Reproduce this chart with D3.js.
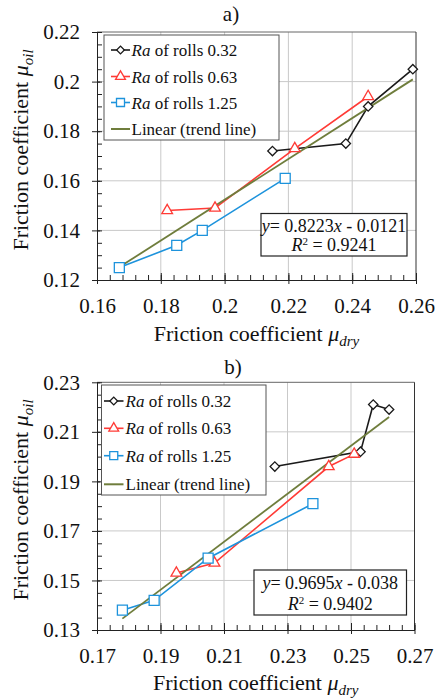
<!DOCTYPE html>
<html><head><meta charset="utf-8">
<script src="https://cdn.jsdelivr.net/npm/d3@7"></script>
<style>
html,body{margin:0;padding:0;background:#fff;}
svg{display:block;}
svg text{font-family:"Liberation Serif","Tinos","Times New Roman","DejaVu Serif",serif !important;}
</style></head>
<body><svg id="c" width="441" height="698"></svg>
<script>
// ---------- data ----------
const seriesNames = ["0.32", "0.63", "1.25"];
// panel a
const aBlackX = [0.215, 0.238, 0.245, 0.259];
const aBlackY = [0.172, 0.175, 0.190, 0.205];
const aRedX = [0.182, 0.197, 0.222, 0.245];
const aRedY = [0.148, 0.149, 0.173, 0.194];
const aBlueX = [0.167, 0.185, 0.193, 0.219];
const aBlueY = [0.125, 0.134, 0.140, 0.161];
const aTrendX = [0.167, 0.259];
const aTrendY = [0.1252, 0.2009];
const aXTicks = [0.16, 0.18, 0.20, 0.22, 0.24, 0.26];
const aXLabels = ["0.16", "0.18", "0.2", "0.22", "0.24", "0.26"];
const aYTicks = [0.12, 0.14, 0.16, 0.18, 0.20, 0.22];
const aYLabels = ["0.12", "0.14", "0.16", "0.18", "0.2", "0.22"];
const aEq = ["0.8223", "0.0121", "0.9241"];
// panel b
const bBlackX = [0.226, 0.253, 0.257, 0.262];
const bBlackY = [0.196, 0.202, 0.221, 0.219];
const bRedX = [0.195, 0.207, 0.243, 0.251];
const bRedY = [0.153, 0.157, 0.196, 0.201];
const bBlueX = [0.178, 0.188, 0.205, 0.238];
const bBlueY = [0.138, 0.142, 0.159, 0.181];
const bTrendX = [0.178, 0.262];
const bTrendY = [0.1346, 0.216];
const bXTicks = [0.17, 0.19, 0.21, 0.23, 0.25, 0.27];
const bXLabels = ["0.17", "0.19", "0.21", "0.23", "0.25", "0.27"];
const bYTicks = [0.13, 0.15, 0.17, 0.19, 0.21, 0.23];
const bYLabels = ["0.13", "0.15", "0.17", "0.19", "0.21", "0.23"];
const bEq = ["0.9695", "0.038", "0.9402"];

const FONT = "'Liberation Serif', Tinos, 'Times New Roman', 'DejaVu Serif', serif";
const COLORS = {black: "#1a1a1a", red: "#ff3b36", blue: "#1d93dc", trend: "#6f7d3c"};
const svg = d3.select("#c").attr("font-family", FONT);

function zip(xs, ys) { return xs.map((x, i) => [x, ys[i]]); }

function drawPanel(cfg) {
  const g = svg.append("g");
  const x = d3.scaleLinear().domain([cfg.xTicks[0], cfg.xTicks[cfg.xTicks.length - 1]]).range([cfg.left, cfg.right]);
  const y = d3.scaleLinear().domain([cfg.yTicks[0], cfg.yTicks[cfg.yTicks.length - 1]]).range([cfg.bottom, cfg.top]);

  // grid
  g.append("g").selectAll("line").data(cfg.xTicks.slice(1, -1)).join("line")
    .attr("x1", d => x(d)).attr("x2", d => x(d)).attr("y1", cfg.top).attr("y2", cfg.bottom)
    .attr("stroke", "#c9c9c9").attr("stroke-width", 1);
  g.append("g").selectAll("line").data(cfg.yTicks.slice(1, -1)).join("line")
    .attr("y1", d => y(d)).attr("y2", d => y(d)).attr("x1", cfg.left).attr("x2", cfg.right)
    .attr("stroke", "#c9c9c9").attr("stroke-width", 1);
  g.append("line").attr("x1", cfg.left).attr("x2", cfg.right).attr("y1", cfg.top).attr("y2", cfg.top).attr("stroke", "#666");
  g.append("line").attr("x1", cfg.right).attr("x2", cfg.right).attr("y1", cfg.top).attr("y2", cfg.bottom).attr("stroke", "#333");

  // axes
  const xMinor = d3.range(cfg.xTicks[0], cfg.xTicks[cfg.xTicks.length - 1] + 1e-9, 0.004);
  const yMinor = d3.range(cfg.yTicks[0], cfg.yTicks[cfg.yTicks.length - 1] + 1e-9, 0.005);
  const styleAxis = sel => {
    sel.attr("font-family", FONT);
    sel.select(".domain").attr("stroke", "#222");
    sel.selectAll(".tick line").attr("stroke", "#222");
  };
  g.append("g").attr("transform", `translate(0,${cfg.bottom})`)
    .call(d3.axisBottom(x).tickValues(xMinor).tickSize(-5).tickSizeOuter(0).tickFormat("")).call(styleAxis);
  g.append("g").attr("transform", `translate(0,${cfg.bottom})`)
    .call(d3.axisBottom(x).tickValues(cfg.xTicks).tickSize(-7).tickSizeOuter(0).tickFormat("")).call(styleAxis);
  const xa = g.append("g").attr("transform", `translate(0,${cfg.bottom})`)
    .call(d3.axisBottom(x).tickValues(cfg.xTicks).tickSize(4).tickSizeOuter(0).tickPadding(14)
      .tickFormat((d, i) => cfg.xLabels[i])).call(styleAxis);
  xa.selectAll("text").attr("font-size", 21).attr("fill", "#111");

  g.append("g").attr("transform", `translate(${cfg.left},0)`)
    .call(d3.axisLeft(y).tickValues(yMinor).tickSize(-5).tickSizeOuter(0).tickFormat("")).call(styleAxis);
  g.append("g").attr("transform", `translate(${cfg.left},0)`)
    .call(d3.axisLeft(y).tickValues(cfg.yTicks).tickSize(-3).tickSizeOuter(0).tickFormat("")).call(styleAxis);
  const ya = g.append("g").attr("transform", `translate(${cfg.left},0)`)
    .call(d3.axisLeft(y).tickValues(cfg.yTicks).tickSize(5).tickSizeOuter(0).tickPadding(12)
      .tickFormat((d, i) => cfg.yLabels[i])).call(styleAxis);
  ya.selectAll("text").attr("font-size", 21).attr("fill", "#111");

  // title
  g.append("text").attr("x", cfg.titleX).attr("y", cfg.titleY).attr("text-anchor", "middle")
    .attr("font-size", 21).attr("fill", "#111").text(cfg.title);
  // x title
  const xt = g.append("text").attr("x", (cfg.left + cfg.right) / 2).attr("y", cfg.xTitleY)
    .attr("text-anchor", "middle").attr("font-size", 22).attr("fill", "#111");
  xt.append("tspan").text("Friction coefficient ");
  xt.append("tspan").attr("font-style", "italic").text("μ");
  xt.append("tspan").attr("font-style", "italic").attr("font-size", 15).attr("dy", 5).text("dry");
  // y title
  const yt = g.append("text").attr("transform", `translate(${cfg.yTitleX},${cfg.yTitleY}) rotate(-90)`)
    .attr("text-anchor", "middle").attr("font-size", 22).attr("fill", "#111");
  yt.append("tspan").text("Friction coefficient ");
  yt.append("tspan").attr("font-style", "italic").text("μ");
  yt.append("tspan").attr("font-style", "italic").attr("font-size", 15).attr("dy", 5).text("oil");

  // data
  const line = d3.line().x(d => x(d[0])).y(d => y(d[1]));
  const plot = g.append("g");
  const series = [
    {pts: zip(cfg.blackX, cfg.blackY), color: COLORS.black, sym: d3.symbolSquare, size: 44, rot: 45},
    {pts: zip(cfg.redX, cfg.redY), color: COLORS.red, sym: d3.symbolTriangle, size: 50, rot: 0},
    {pts: zip(cfg.blueX, cfg.blueY), color: COLORS.blue, sym: d3.symbolSquare, size: 100, rot: 0}
  ];
  series.forEach(s => {
    plot.append("path").attr("d", line(s.pts)).attr("fill", "none").attr("stroke", s.color).attr("stroke-width", 1.6);
  });
  plot.append("path").attr("d", line(zip(cfg.trendX, cfg.trendY))).attr("fill", "none")
    .attr("stroke", COLORS.trend).attr("stroke-width", 1.8);
  series.forEach(s => {
    plot.selectAll(null).data(s.pts).join("path")
      .attr("transform", d => `translate(${x(d[0])},${y(d[1])}) rotate(${s.rot})`)
      .attr("d", d3.symbol().type(s.sym).size(s.size)).attr("fill", "#fff")
      .attr("stroke", s.color).attr("stroke-width", 1.3);
  });

  // legend
  const L = cfg.legend;
  g.append("rect").attr("x", L.x0).attr("y", L.y0).attr("width", L.x1 - L.x0).attr("height", L.y1 - L.y0)
    .attr("fill", "#fff").attr("stroke", "#555").attr("stroke-width", 1);
  const items = [
    {color: COLORS.black, sym: d3.symbolSquare, size: 30, rot: 45, label: seriesNames[0]},
    {color: COLORS.red, sym: d3.symbolTriangle, size: 42, rot: 0, label: seriesNames[1]},
    {color: COLORS.blue, sym: d3.symbolSquare, size: 64, rot: 0, label: seriesNames[2]},
    {color: COLORS.trend, sym: null, label: null}
  ];
  items.forEach((it, i) => {
    const cy = L.rows[i];
    g.append("line").attr("x1", L.lx0).attr("x2", L.lx1).attr("y1", cy).attr("y2", cy)
      .attr("stroke", it.color).attr("stroke-width", it.sym ? 1.6 : 2);
    if (it.sym) {
      g.append("path").attr("transform", `translate(${(L.lx0 + L.lx1) / 2},${cy}) rotate(${it.rot})`)
        .attr("d", d3.symbol().type(it.sym).size(it.size)).attr("fill", "#fff")
        .attr("stroke", it.color).attr("stroke-width", 1.3);
    }
    const t = g.append("text").attr("x", L.tx).attr("y", cy + 6).attr("font-size", 17).attr("fill", "#111");
    if (it.label) {
      t.append("tspan").attr("font-style", "italic").text("Ra");
      t.append("tspan").text(" of rolls " + it.label);
    } else {
      t.text("Linear (trend line)");
    }
  });

  // equation box
  const E = cfg.eq;
  g.append("rect").attr("x", E.x0).attr("y", E.y0).attr("width", E.x1 - E.x0).attr("height", E.y1 - E.y0)
    .attr("fill", "#fff").attr("stroke", "#222").attr("stroke-width", 1.2);
  const cx = (E.x0 + E.x1) / 2;
  const t1 = g.append("text").attr("x", cx).attr("y", E.b1).attr("text-anchor", "middle").attr("font-size", 18).attr("fill", "#111");
  t1.append("tspan").attr("font-style", "italic").text("y");
  t1.append("tspan").text("= " + cfg.eqVals[0]);
  t1.append("tspan").attr("font-style", "italic").text("x");
  t1.append("tspan").text(" - " + cfg.eqVals[1]);
  const t2 = g.append("text").attr("x", cx).attr("y", E.b2).attr("text-anchor", "middle").attr("font-size", 18).attr("fill", "#111");
  t2.append("tspan").attr("font-style", "italic").text("R");
  t2.append("tspan").attr("font-size", 11).attr("dy", -6).text("2");
  t2.append("tspan").attr("dy", 6).text(" = " + cfg.eqVals[2]);
}

drawPanel({
  left: 97, right: 416, top: 32, bottom: 280,
  xTicks: aXTicks, xLabels: aXLabels, yTicks: aYTicks, yLabels: aYLabels,
  blackX: aBlackX, blackY: aBlackY, redX: aRedX, redY: aRedY, blueX: aBlueX, blueY: aBlueY,
  trendX: aTrendX, trendY: aTrendY,
  title: "a)", titleX: 231, titleY: 21, xTitleY: 341, yTitleX: 28, yTitleY: 150,
  legend: {x0: 104, y0: 35, x1: 279, y1: 140, rows: [50, 76.5, 102.5, 129], lx0: 111, lx1: 130, tx: 131.5},
  eq: {x0: 261, y0: 213.5, x1: 407, y1: 256, b1: 232, b2: 251},
  eqVals: aEq
});
drawPanel({
  left: 97, right: 414.5, top: 382.3, bottom: 630,
  xTicks: bXTicks, xLabels: bXLabels, yTicks: bYTicks, yLabels: bYLabels,
  blackX: bBlackX, blackY: bBlackY, redX: bRedX, redY: bRedY, blueX: bBlueX, blueY: bBlueY,
  trendX: bTrendX, trendY: bTrendY,
  title: "b)", titleX: 233, titleY: 374, xTitleY: 690, yTitleX: 28, yTitleY: 500,
  legend: {x0: 101.5, y0: 385, x1: 266, y1: 495, rows: [401, 428.3, 455.7, 484.3], lx0: 104, lx1: 123.5, tx: 125.5},
  eq: {x0: 254, y0: 570, x1: 406.5, y1: 615, b1: 588.5, b2: 610},
  eqVals: bEq
});
</script></body></html>
